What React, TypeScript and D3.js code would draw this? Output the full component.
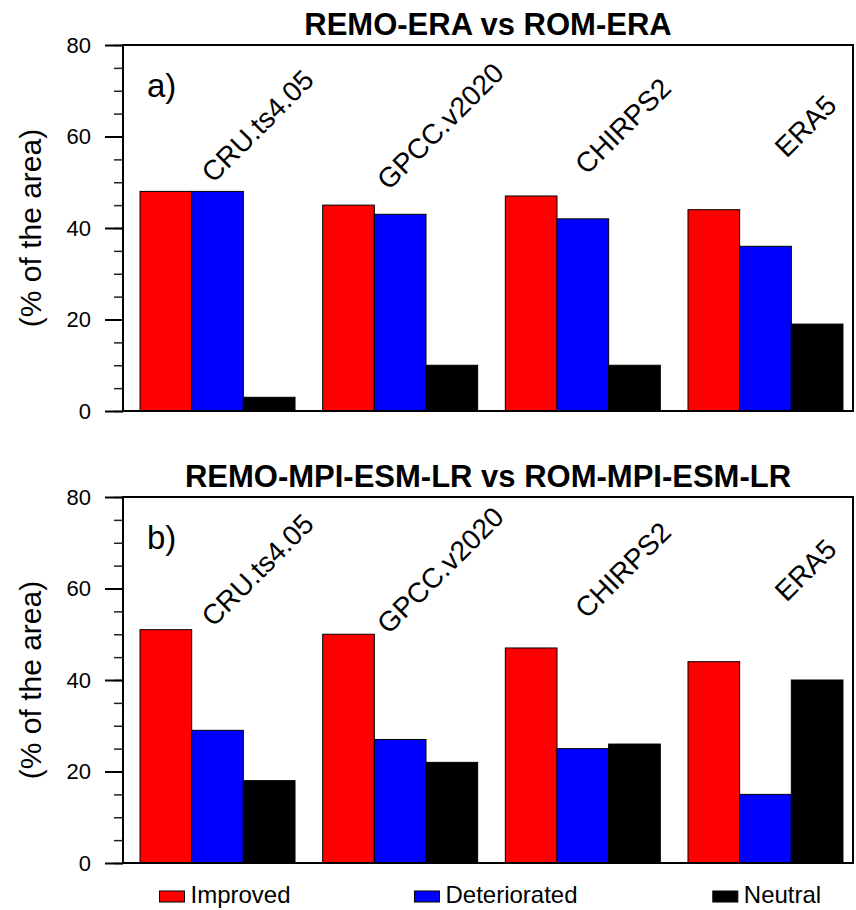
import * as d3 from "d3";
import {useEffect, useRef} from "react";

const categories = ["CRU.ts4.05", "GPCC.v2020", "CHIRPS2", "ERA5"];
const seriesNames = ["Improved", "Deteriorated", "Neutral"];
const seriesColors = ["#ff0000", "#0000ff", "#000000"];

// panel a) REMO-ERA vs ROM-ERA
const improvedA = [48, 45, 47, 44];
const deterioratedA = [48, 43, 42, 36];
const neutralA = [3, 10, 10, 19];

// panel b) REMO-MPI-ESM-LR vs ROM-MPI-ESM-LR
const improvedB = [51, 50, 47, 44];
const deterioratedB = [29, 27, 25, 15];
const neutralB = [18, 22, 26, 40];

const yTicks = [0, 20, 40, 60, 80];
const yMinorTicks = d3.range(0, 81, 5);

const panels = [
	{title: "REMO-ERA vs ROM-ERA", tag: "a)", series: [improvedA, deterioratedA, neutralA], top: 45, labelOffset: 81},
	{title: "REMO-MPI-ESM-LR vs ROM-MPI-ESM-LR", tag: "b)", series: [improvedB, deterioratedB, neutralB], top: 497, labelOffset: 73},
];

const font = "'Liberation Sans', Arial, Helvetica, sans-serif";

const App = () => {
	const svgRef = useRef(null);

	useEffect(() => {
		const width = 856;
		const height = 910;
		const frameLeft = 123;
		const frameRight = 853;
		const plotHeight = 366;

		const svg = d3.select(svgRef.current)
			.attr("width", width)
			.attr("height", height)
			.attr("viewBox", [0, 0, width, height]);
		svg.selectAll("*").remove();

		// group positions along x
		const x = d3.scaleBand()
			.domain(categories)
			.range([126.2, 856.8])
			.paddingInner(0.1515)
			.paddingOuter(0.0757);
		const xs = d3.scaleBand()
			.domain(seriesNames)
			.range([0, x.bandwidth()]);

		panels.forEach((p) => {
			const y = d3.scaleLinear().domain([0, 80]).range([p.top + plotHeight, p.top]);
			const g = svg.append("g");

			// title
			g.append("text")
				.attr("x", (frameLeft + frameRight) / 2)
				.attr("y", p.top - 10)
				.attr("text-anchor", "middle")
				.attr("font-family", font)
				.attr("font-weight", "bold")
				.attr("font-size", 31)
				.text(p.title);

			// bars
			p.series.forEach((vals, si) => {
				g.append("g")
					.selectAll("rect")
					.data(vals)
					.join("rect")
					.attr("x", (d, i) => x(categories[i]) + xs(seriesNames[si]))
					.attr("y", (d) => y(d))
					.attr("width", xs.bandwidth())
					.attr("height", (d) => y(0) - y(d))
					.attr("fill", seriesColors[si])
					.attr("stroke", "#000")
					.attr("stroke-width", 1);
			});

			// frame
			g.append("rect")
				.attr("x", frameLeft)
				.attr("y", p.top)
				.attr("width", frameRight - frameLeft)
				.attr("height", plotHeight)
				.attr("fill", "none")
				.attr("stroke", "#000")
				.attr("stroke-width", 2);

			// y axis, ticks outward
			const axis = g.append("g").attr("transform", `translate(${frameLeft},0)`);
			axis.call(
				d3.axisLeft(y).tickValues(yMinorTicks).tickSize(9).tickFormat(() => "")
			)
				.call((a) => a.select(".domain").remove())
				.call((a) => a.selectAll(".tick line").attr("stroke-width", 1.5).attr("stroke", "#222"));
			axis.append("g")
				.call(d3.axisLeft(y).tickValues(yTicks).tickSize(18).tickPadding(14))
				.call((a) => a.select(".domain").remove())
				.call((a) => a.selectAll(".tick line").attr("stroke-width", 2))
				.call((a) => a.selectAll("text")
					.attr("font-family", font)
					.attr("font-size", 22)
					.attr("fill", "#000"));

			// y label
			g.append("text")
				.attr("transform", `translate(41,${p.top + plotHeight / 2}) rotate(-90)`)
				.attr("text-anchor", "middle")
				.attr("font-family", font)
				.attr("font-size", 30)
				.text("(% of the area)");

			// panel tag
			g.append("text")
				.attr("x", 147)
				.attr("y", p.top + 52)
				.attr("font-family", font)
				.attr("font-size", 33)
				.text(p.tag);

			// category labels
			g.append("g")
				.selectAll("text")
				.data(categories)
				.join("text")
				.attr("transform", (d) => `translate(${x(d) + x.bandwidth() / 2 + 40},${p.top + p.labelOffset}) rotate(-45)`)
				.attr("text-anchor", "middle")
				.attr("dy", "0.35em")
				.attr("font-family", font)
				.attr("font-size", 28)
				.text((d) => d);
		});

		// legend
		const lx = d3.scalePoint().domain(seriesNames).range([225, 767]);
		const boxW = 25;
		const gap = 6;
		seriesNames.forEach((name, i) => {
			const item = svg.append("g");
			const label = item.append("text")
				.attr("y", 903)
				.attr("font-family", font)
				.attr("font-size", 24)
				.text(name);
			const tw = label.node().getComputedTextLength();
			const start = lx(name) - (boxW + gap + tw) / 2;
			label.attr("x", start + boxW + gap);
			item.append("rect")
				.attr("x", start)
				.attr("y", 891)
				.attr("width", boxW)
				.attr("height", 11)
				.attr("fill", seriesColors[i])
				.attr("stroke", "#000")
				.attr("stroke-width", 1);
		});
	}, []);

	return (
		<div style={{position: "absolute", left: 0, top: 0, width: 856, height: 910, background: "#fff"}}>
			<svg ref={svgRef}></svg>
		</div>
	);
};
export default App;
